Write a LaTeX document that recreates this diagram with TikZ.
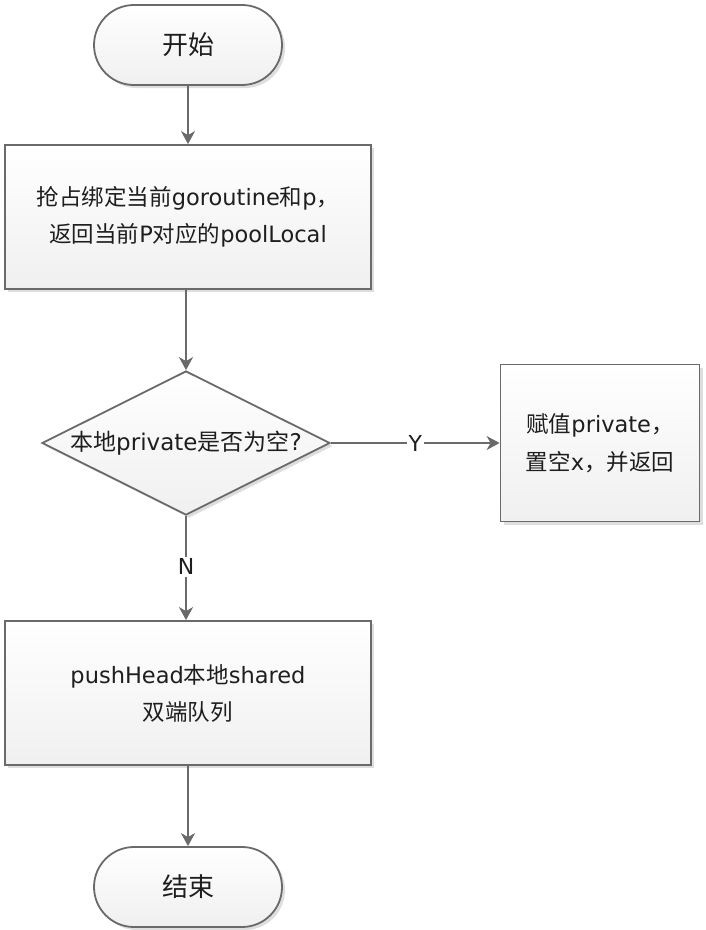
\documentclass[tikz,border=0pt]{standalone}
\usepackage{fontspec}
\setmainfont{DejaVu Sans}
\newfontfamily\cjk{Noto Sans CJK SC}
\usetikzlibrary{shapes.geometric,arrows.meta,shadows}
\definecolor{edge}{HTML}{6A6A6A}
\definecolor{txt}{HTML}{1E1E1E}
\begin{document}
\begin{tikzpicture}[x=1pt,y=-1pt,
  base/.style={draw=edge,line width=1.8pt,top color=white,bottom color=black!6,text=txt,
    drop shadow={shadow xshift=3pt,shadow yshift=-3pt,opacity=0.13,fill=black}},
  term/.style={base,rectangle,rounded corners=40pt,minimum width=188pt,minimum height=80pt,font=\cjk\fontsize{26}{30}\selectfont},
  proc/.style={base,rectangle,minimum width=366pt,minimum height=144pt,align=center,font=\fontsize{22.5}{37}\selectfont},
  small/.style={base,rectangle,minimum width=199pt,minimum height=157pt,align=center,font=\fontsize{22.5}{38}\selectfont},
  dec/.style={base,diamond,minimum width=288pt,minimum height=144pt,inner sep=0pt},
  conn/.style={draw=edge,line width=1.8pt,-{Stealth[length=13pt,width=14pt,inset=4pt]}},
  lbl/.style={fill=white,text=txt,inner sep=2pt,font=\fontsize{22}{24}\selectfont}
]
\useasboundingbox (0,0) rectangle (706,930);
\node[term] (start) at (188,45) {开始};
\node[proc] (grab) at (188,217) {{\cjk 抢占绑定当前}goroutine{\cjk 和}p{\cjk ，}\\ {\cjk 返回当前}P{\cjk 对应的}poolLocal};
\node[dec] (check) at (186,443) {};
\node[text=txt,font=\fontsize{23}{24}\selectfont] (checkt) at (check.center) {{\cjk 本地}private{\cjk 是否为空}?};
\node[small] (ret) at (600,443) {{\cjk 赋值}private{\cjk ，}\\{\cjk 置空}x{\cjk ，并返回}};
\node[proc] (push) at (188,693) {pushHead{\cjk 本地}shared\\{\cjk 双端队列}};
\node[term] (end) at (188,887) {结束};
\draw[conn] (start) -- (grab);
\draw[conn] (grab.south -| check.north) -- (check.north);
\draw[conn] (check.east) -- node[lbl] (y) {Y} (ret.west);
\draw[conn] (check.south) -- node[lbl,pos=0.49] (n) {N} (check.south |- push.north);
\draw[conn] (push) -- (end);
\end{tikzpicture}
\end{document}
